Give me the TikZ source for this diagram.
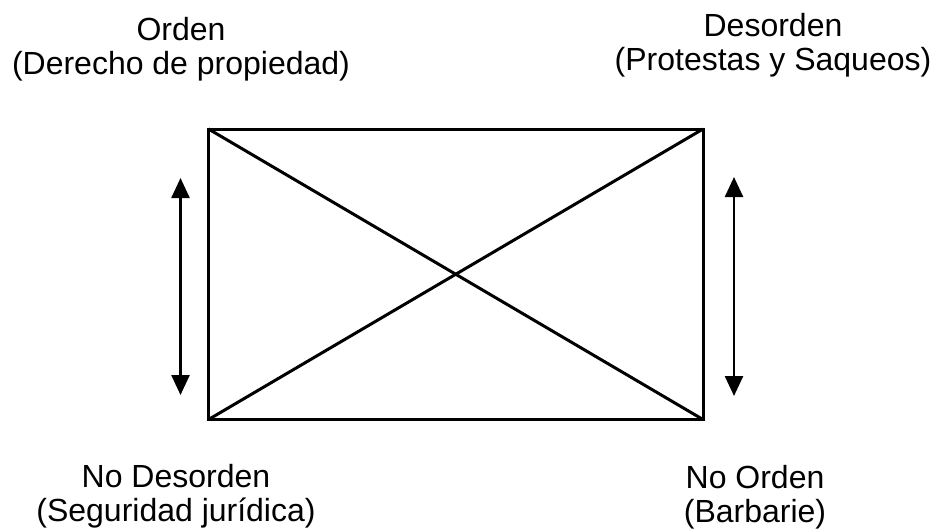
\documentclass[tikz,border=0pt]{standalone}
\usepackage{fontspec}
\setmainfont{Liberation Sans}
\usetikzlibrary{arrows.meta}
\begin{document}
\begin{tikzpicture}[x=0.5pt,y=-0.5pt,
    etiqueta/.style={align=center,font=\fontsize{16}{17}\selectfont,inner sep=0pt},
    marco/.style={line width=1.5pt},
    flecha/.style={{Triangle[width=9pt,length=10pt]}-{Triangle[width=9pt,length=10pt]},line width=1.25pt}]
    \useasboundingbox (0,0) rectangle (935,531);
    % esquinas del cuadro
    \coordinate (A) at (208.5,129);
    \coordinate (B) at (703,129);
    \coordinate (C) at (703,419.5);
    \coordinate (D) at (208.5,419.5);
    \draw[marco] (A) -- (B) -- (C) -- (D) -- cycle;
    \draw[marco] (A) -- (C);
    \draw[marco] (B) -- (D);
    % flechas laterales
    \coordinate (izqArriba) at (180.5,178);
    \coordinate (izqAbajo) at (180.5,395);
    \coordinate (derArriba) at (734,177);
    \coordinate (derAbajo) at (734,396);
    \draw[flecha] (izqArriba) -- (izqAbajo);
    \draw[flecha] (derArriba) -- (derAbajo);
    % textos
    \node[etiqueta] (orden) at (181,49) {Orden\\(Derecho de propiedad)};
    \node[etiqueta] (desorden) at (773,45) {Desorden\\(Protestas y Saqueos)};
    \node[etiqueta] (nodesorden) at (176,496) {No Desorden\\(Seguridad jurídica)};
    \node[etiqueta] (noorden) at (755,497) {No Orden\\(Barbarie)};
\end{tikzpicture}
\end{document}
